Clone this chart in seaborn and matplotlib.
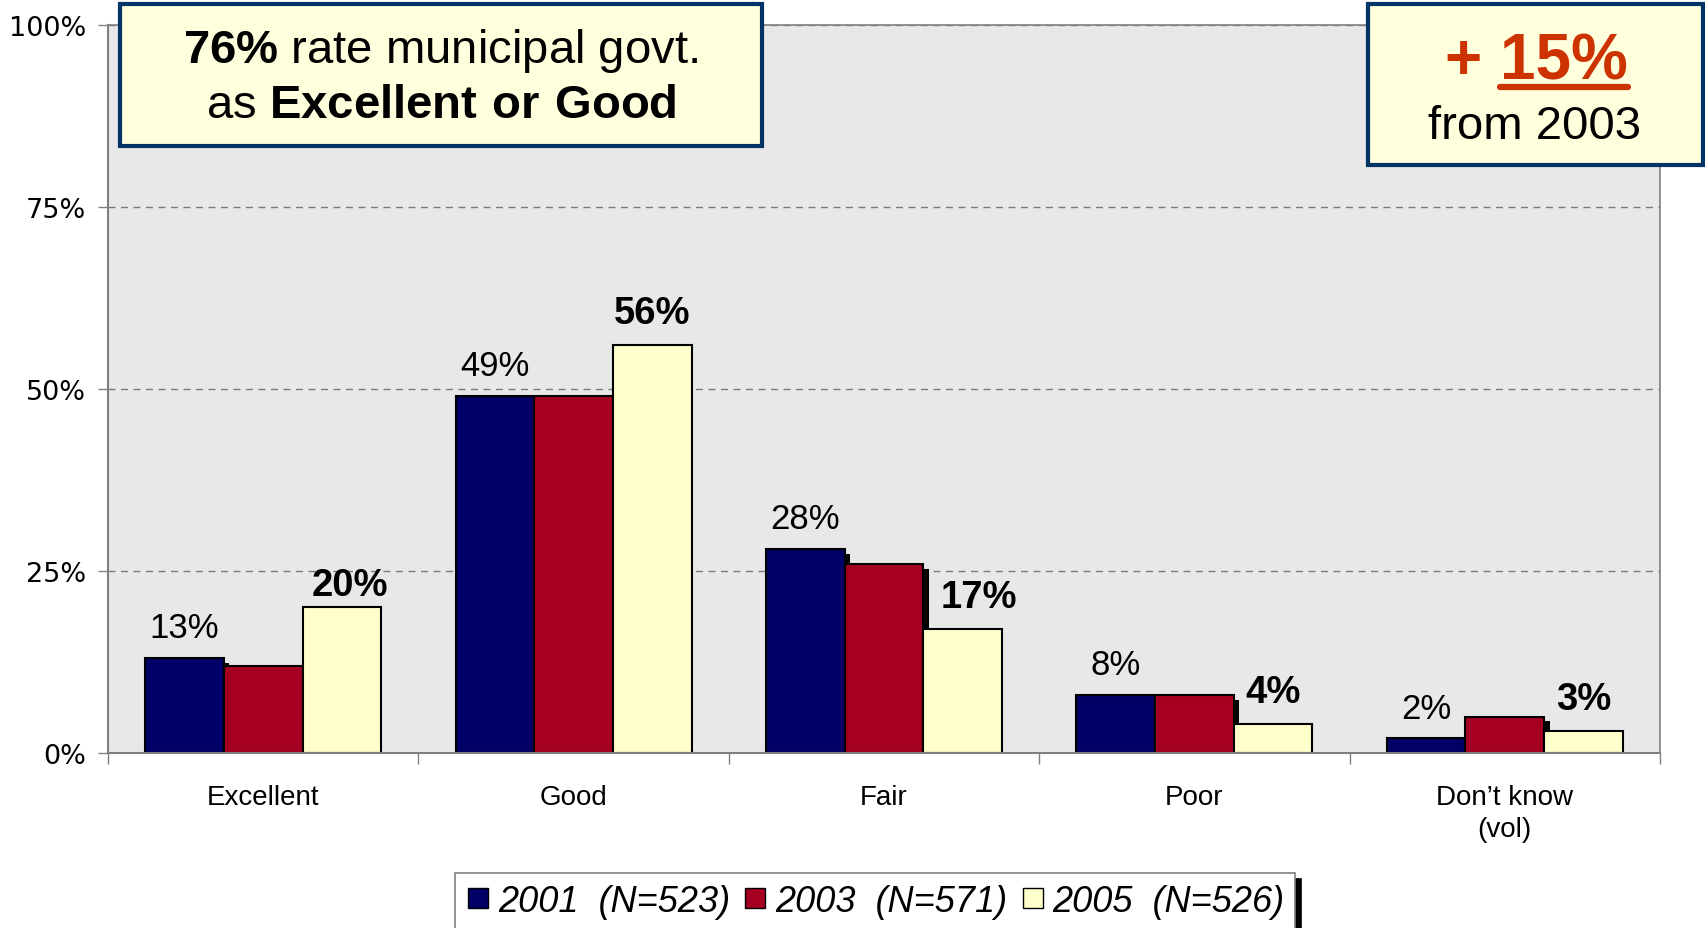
import numpy as np
import pandas as pd
import matplotlib
matplotlib.use("Agg")
import matplotlib.pyplot as plt
import matplotlib.patheffects as pe
from matplotlib.lines import Line2D
from matplotlib.patches import Rectangle
import seaborn as sns

# Data
categories = ["Excellent", "Good", "Fair", "Poor", "Don\u2019t know\n(vol)"]
years = ["2001  (N=523)", "2003  (N=571)", "2005  (N=526)"]
v2001 = [13, 49, 28, 8, 2]
v2003 = [12, 49, 26, 8, 5]
v2005 = [20, 56, 17, 4, 3]
yticks = [0, 25, 50, 75, 100]
colors = ["#000066", "#A50021", "#FFFFCC"]

df = pd.DataFrame({
    "rating": categories * 3,
    "year": np.repeat(years, len(categories)),
    "pct": v2001 + v2003 + v2005,
})

sns.set_theme(style="white")
plt.rcParams["font.family"] = ["Liberation Sans", "DejaVu Sans"]
plt.rcParams["mathtext.fontset"] = "custom"
plt.rcParams["mathtext.rm"] = "Liberation Sans"
plt.rcParams["mathtext.bf"] = "Liberation Sans:bold"
plt.rcParams["text.color"] = "black"
plt.rcParams["xtick.labelcolor"] = "black"
plt.rcParams["ytick.labelcolor"] = "black"

W, H = 1706, 929
fig = plt.figure(figsize=(W / 100, H / 100), dpi=100)
ax = fig.add_axes([108 / W, 1 - 754 / H, (1660 - 108) / W, (754 - 26) / H])
ax.set_facecolor("#E8E8E8")

sns.barplot(data=df, x="rating", y="pct", hue="year", palette=colors,
            saturation=1, width=0.76, gap=0, edgecolor="black", linewidth=1.5,
            errorbar=None, legend=False, ax=ax)

# black drop shadow on the 2001 and 2003 bars
shadow = [pe.SimplePatchShadow(offset=(4, -3.5), shadow_rgbFace="black", alpha=1), pe.Normal()]
for cont in ax.containers[:2]:
    for bar in cont:
        bar.set_path_effects(shadow)

ax.set_xlim(-0.5, 4.5)
ax.set_ylim(0, 100)
ax.set_axisbelow(True)
ax.yaxis.grid(True, linestyle=(0, (5, 4)), color="#7a7a7a", linewidth=1)
for side, sp in ax.spines.items():
    sp.set_visible(True)
    sp.set_color("#808080")
    sp.set_linewidth(1.5 if side in ("left", "bottom") else 1.2)

ax.set_yticks(yticks)
ax.set_yticklabels([f"{t}%" for t in yticks], fontfamily="DejaVu Sans", fontsize=19.5)
ax.tick_params(axis="y", left=True, direction="out", length=7, width=1, color="#808080", pad=9)

ax.set_xticks(range(len(categories)))
ax.set_xticklabels(categories, fontsize=20, linespacing=1.3)
ax.set_xticks(np.arange(-0.5, len(categories), 1), minor=True)
ax.tick_params(axis="x", which="major", length=0, pad=22)
ax.tick_params(axis="x", which="minor", bottom=True, direction="out", length=8, width=1, color="#808080")
ax.set_xlabel("")
ax.set_ylabel("")

ax.bar_label(ax.containers[0], labels=[f"{v}%" for v in v2001], padding=10, fontsize=25)
bold_labels = ax.bar_label(ax.containers[2], labels=[f"{v}%" for v in v2005], padding=10,
                           fontsize=27.5, fontweight="bold")
# a couple of the bold labels sit nudged off-centre in the original
nudges = [(6, -7), (0, 0), (12, 0), (0, 0), (0, 0)]
for lab, (dx, dy) in zip(bold_labels, nudges):
    lab.xyann = (dx, 10 + dy)

# callout boxes
fig.add_artist(Rectangle((120 / W, 1 - 147 / H), (762 - 120) / W, (147 - 5) / H,
                         transform=fig.transFigure, fc="#FFFFDD", ec="#003366", lw=3, zorder=5))
fig.text(441 / W, 1 - 51 / H, r"$\bf{76\%}$ rate municipal govt.", ha="center", va="center",
         fontsize=34, zorder=6)
fig.text(441 / W, 1 - 106 / H, r"as $\bf{Excellent\ or\ Good}$", ha="center", va="center",
         fontsize=34, zorder=6)

fig.add_artist(Rectangle((1368 / W, 1 - 166 / H), (1703 - 1368) / W, (166 - 5) / H,
                         transform=fig.transFigure, fc="#FFFFDD", ec="#003366", lw=3, zorder=5))
fig.text(1500 / W, 1 - 62 / H, "+ ", ha="right", va="center", fontsize=46,
         fontweight="bold", color="#CC3300", zorder=6)
t15 = fig.text(1500 / W, 1 - 62 / H, "15%", ha="left", va="center", fontsize=46,
               fontweight="bold", color="#CC3300", zorder=6)
fig.text(1535 / W, 1 - 127 / H, "from 2003", ha="center", va="center", fontsize=34, zorder=6)

fig.canvas.draw()
bb = t15.get_window_extent().transformed(fig.transFigure.inverted())
fig.add_artist(Line2D([bb.x0, bb.x1], [1 - 88 / H] * 2, transform=fig.transFigure,
                      color="#CC3300", lw=4.5, zorder=6))

# legend
handles = [Line2D([], [], marker="s", ls="", markersize=14, markerfacecolor=c,
                  markeredgecolor="black", markeredgewidth=1) for c in colors]
leg = fig.legend(handles, years, loc="upper center", bbox_to_anchor=(875 / W, 1 - 874 / H),
                 borderaxespad=0, ncol=3, frameon=True, fancybox=False,
                 shadow={"color": "black", "alpha": 1, "ox": 4, "oy": -4},
                 prop={"style": "italic", "size": 26}, handletextpad=0.2,
                 columnspacing=0.35, handlelength=0.7, borderpad=0.3, edgecolor="#808080")
leg.get_frame().set_linewidth(1.2)

fig.savefig("out.png", dpi=100)
